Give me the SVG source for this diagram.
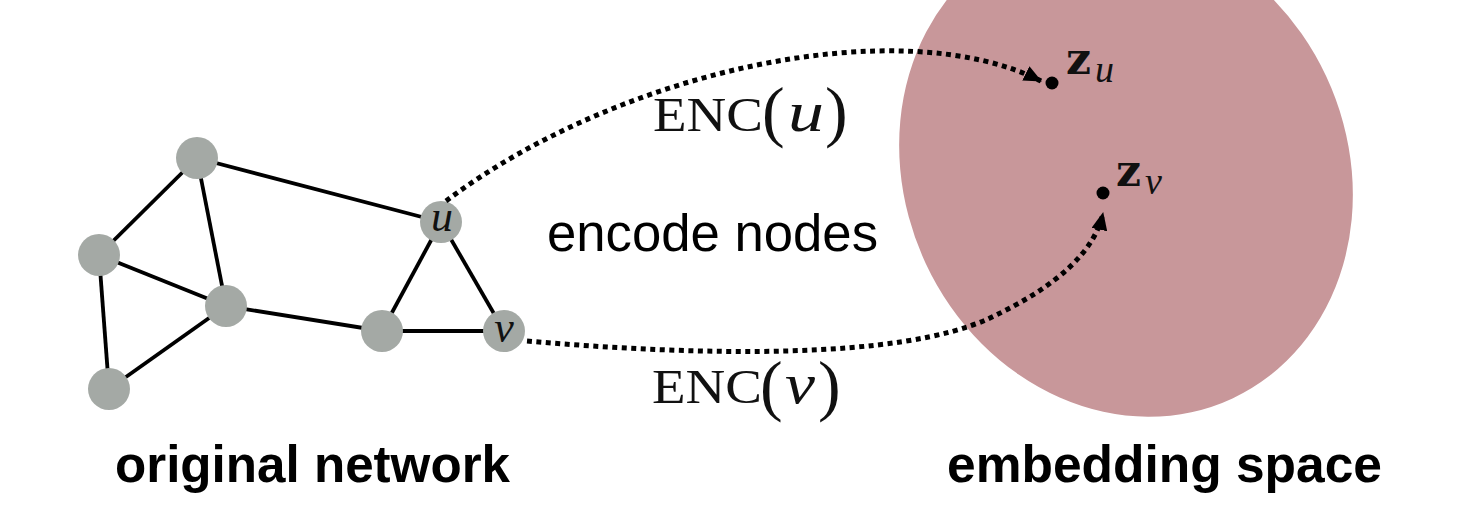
<svg xmlns="http://www.w3.org/2000/svg" width="1476" height="526" viewBox="0 0 1476 526">
<defs>
<style>
.edge{stroke:#000;stroke-width:3.8;fill:none}
.node{fill:#a4a9a5}
.dot{stroke:#000;stroke-width:5;stroke-dasharray:5 4.5;fill:none}
.math{font-family:"Liberation Serif","Times New Roman",serif;fill:#111}
.ital{font-family:"Liberation Serif","Times New Roman",serif;font-style:italic;fill:#111}
.bold{font-family:"Liberation Sans",Arial,sans-serif;font-weight:bold;font-size:52px;fill:#000}
.plain{font-family:"Liberation Sans",Arial,sans-serif;font-size:51px;fill:#000}
.zb{font-family:"DejaVu Serif",serif;font-weight:bold;font-size:44px;fill:#111}
</style>
<marker id="arr" viewBox="0 0 18 16" refX="17" refY="8" markerWidth="18" markerHeight="16" markerUnits="userSpaceOnUse" orient="auto">
<path d="M0,0 L18,8 L0,16 z" fill="#000"/>
</marker>
</defs>
<rect width="1476" height="526" fill="#fff"/>
<g id="embedding-space">
<ellipse cx="1126" cy="170" rx="221" ry="252" transform="rotate(-25 1126 170)" fill="#c8979a"/>
</g>
<g id="edges">
<line class="edge" x1="197" y1="158" x2="99" y2="255"/>
<line class="edge" x1="197" y1="158" x2="226" y2="306"/>
<line class="edge" x1="197" y1="158" x2="441" y2="222"/>
<line class="edge" x1="99" y1="255" x2="226" y2="306"/>
<line class="edge" x1="99" y1="255" x2="109" y2="389"/>
<line class="edge" x1="226" y1="306" x2="109" y2="389"/>
<line class="edge" x1="226" y1="306" x2="382" y2="331"/>
<line class="edge" x1="382" y1="331" x2="441" y2="222"/>
<line class="edge" x1="382" y1="331" x2="504" y2="331"/>
<line class="edge" x1="441" y1="222" x2="504" y2="331"/>
</g>
<g id="n1"><circle class="node" cx="197" cy="158" r="21"/></g>
<g id="n2"><circle class="node" cx="99" cy="255" r="21"/></g>
<g id="n3"><circle class="node" cx="226" cy="306" r="21"/></g>
<g id="n4"><circle class="node" cx="109" cy="389" r="21"/></g>
<g id="n5"><circle class="node" cx="382" cy="331" r="21"/></g>
<g id="node-u"><circle class="node" cx="441" cy="222" r="21"/><text class="ital" x="442" y="231" font-size="44" text-anchor="middle">u</text></g>
<g id="node-v"><circle class="node" cx="504" cy="331" r="21"/><text class="ital" x="504" y="342" font-size="44" text-anchor="middle">v</text></g>
<g id="connectors">
<path class="dot" d="M446,201 C620,70 900,10 1041,81" marker-end="url(#arr)"/>
<path class="dot" d="M527,341 C700,356 900,360 990,318 C1060,285 1095,250 1103,213" marker-end="url(#arr)"/>
</g>
<g id="zu">
<circle cx="1052" cy="83" r="6.5" fill="#000"/>
<text class="zb" x="1066" y="74">z</text>
<text class="ital" x="1095" y="82" font-size="38">u</text>
</g>
<g id="zv">
<circle cx="1103" cy="193" r="6.5" fill="#000"/>
<text class="zb" x="1116" y="186">z</text>
<text class="ital" x="1145" y="194" font-size="38">v</text>
</g>
<g id="enc-u">
<text class="math" x="653" y="131" font-size="48" textLength="110" lengthAdjust="spacingAndGlyphs">ENC</text>
<text class="math" x="762" y="134" font-size="68">(</text>
<text class="ital" x="788" y="131" font-size="56" textLength="36" lengthAdjust="spacingAndGlyphs">u</text>
<text class="math" x="825" y="134" font-size="68">)</text>
</g>
<g id="enc-v">
<text class="math" x="652" y="403" font-size="48" textLength="110" lengthAdjust="spacingAndGlyphs">ENC</text>
<text class="math" x="760" y="408" font-size="68">(</text>
<text class="ital" x="785" y="403" font-size="56" textLength="30" lengthAdjust="spacingAndGlyphs">v</text>
<text class="math" x="818" y="408" font-size="68">)</text>
</g>
<text class="plain" x="547" y="251" textLength="331" lengthAdjust="spacingAndGlyphs">encode nodes</text>
<text class="bold" x="115" y="482" textLength="395" lengthAdjust="spacingAndGlyphs">original network</text>
<text class="bold" x="947" y="482" textLength="435" lengthAdjust="spacingAndGlyphs">embedding space</text>
</svg>
